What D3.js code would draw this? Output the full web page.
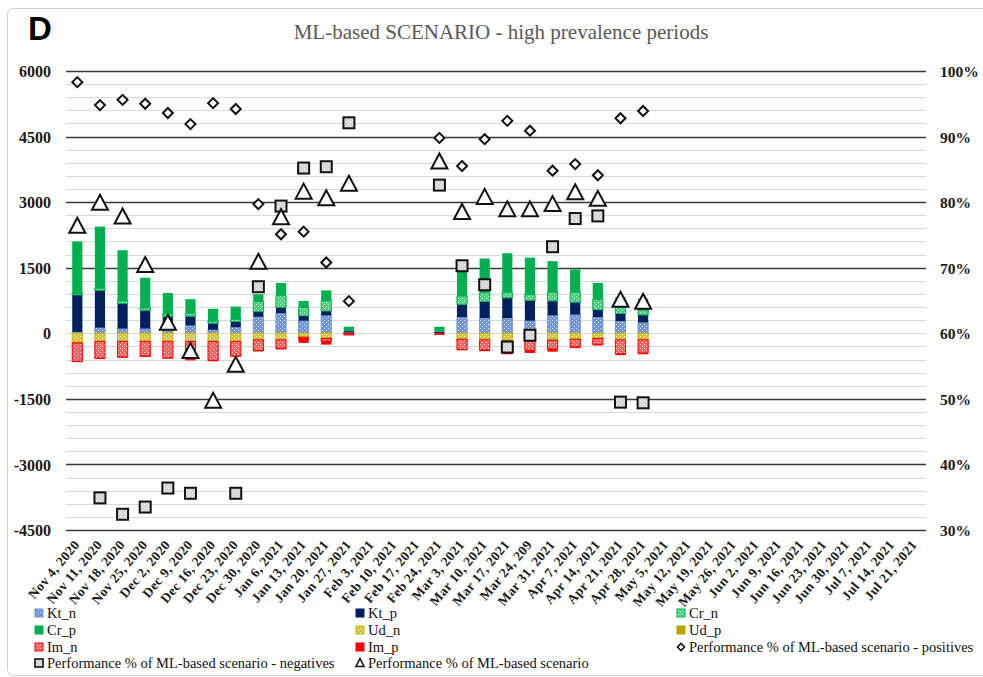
<!DOCTYPE html>
<html><head><meta charset="utf-8">
<script src="https://cdn.jsdelivr.net/npm/d3@7"></script>
<style>
html,body{margin:0;padding:0;background:#fff;}
svg{display:block;}
</style></head>
<body>
<svg id="chart" width="983" height="677"></svg>
<script>
const categories = ["Nov 4, 2020","Nov 11, 2020","Nov 18, 2020","Nov 25, 2020","Dec 2, 2020","Dec 9, 2020","Dec 16, 2020","Dec 23, 2020","Dec 30, 2020","Jan 6, 2021","Jan 13, 2021","Jan 20, 2021","Jan 27, 2021","Feb 3, 2021","Feb 10, 2021","Feb 17, 2021","Feb 24, 2021","Mar 3, 2021","Mar 10, 2021","Mar 17, 2021","Mar 24, 209","Mar 31, 2021","Apr 7, 2021","Apr 14, 2021","Apr 21, 2021","Apr 28, 2021","May 5, 2021","May 12, 2021","May 19, 2021","May 26, 2021","Jun 2, 2021","Jun 9, 2021","Jun 16, 2021","Jun 23, 2021","Jun 30, 2021","Jul 7, 2021","Jul 14, 2021","Jul 21, 2021"];
const N = null;
const Kt_n = [30,130,110,110,110,180,80,140,380,460,290,410,20,N,N,N,0,370,350,350,290,410,430,370,280,250,N,N,N,N,N,N,N,N,N,N,N,N];
const Kt_p = [850,850,570,410,270,210,150,130,115,130,110,100,30,N,N,N,40,290,380,460,460,330,280,170,170,170,N,N,N,N,N,N,N,N,N,N,N,N];
const Cr_n = [30,50,60,60,60,60,50,50,230,270,190,230,0,N,N,N,0,190,200,130,140,200,230,230,150,110,N,N,N,N,N,N,N,N,N,N,N,N];
const Cr_p = [1190,1410,1160,690,480,330,280,290,170,290,150,240,100,N,N,N,110,710,780,890,840,710,520,380,230,260,N,N,N,N,N,N,N,N,N,N,N,N];
const Ud_n = [-200,-170,-170,-170,-170,-170,-170,-170,-130,-130,-80,-100,0,N,N,N,0,-120,-130,-150,-130,-130,-120,-100,-130,-130,N,N,N,N,N,N,N,N,N,N,N,N];
const Ud_p = [-20,-20,-20,-20,-20,-20,-20,-20,-20,-20,-10,-20,0,N,N,N,0,-20,-20,-30,-30,-30,-20,-20,-20,-20,N,N,N,N,N,N,N,N,N,N,N,N];
const Im_n = [-420,-380,-350,-330,-370,-360,-430,-330,-245,-190,-30,-60,-20,N,N,N,0,-230,-230,-250,-230,-200,-170,-130,-320,-300,N,N,N,N,N,N,N,N,N,N,N,N];
const Im_p = [-20,-20,-20,-20,-20,-70,-20,-20,-20,-30,-100,-80,-30,N,N,N,-40,-20,-30,-50,-60,-60,-30,-30,-30,-30,N,N,N,N,N,N,N,N,N,N,N,N];
const perfPositives = [98.3,94.8,95.6,95.0,93.6,91.9,95.1,94.2,79.7,75.1,75.5,70.8,64.9,N,N,N,89.8,85.5,89.6,92.4,90.9,84.8,85.8,84.1,92.8,93.9,N,N,N,N,N,N,N,N,N,N,N,N];
const perfNegatives = [N,34.9,32.4,33.5,36.4,35.6,N,35.6,67.1,79.4,85.2,85.4,92.1,N,N,N,82.6,70.3,67.4,57.9,59.7,73.2,77.5,77.9,49.5,49.4,N,N,N,N,N,N,N,N,N,N,N,N];
const perfAll = [76.4,79.9,77.8,70.4,61.6,57.3,49.7,55.2,70.9,77.7,81.6,80.6,82.8,N,N,N,86.2,78.5,80.8,78.9,78.9,79.7,81.5,80.5,65.1,64.8,N,N,N,N,N,N,N,N,N,N,N,N];
const leftTicks = [6000,4500,3000,1500,0,-1500,-3000,-4500];
const rightTicks = [100,90,80,70,60,50,40,30];
const title = "ML-based SCENARIO - high prevalence periods";

const svg = d3.select("#chart");
const FONT = "'Liberation Serif', 'Times New Roman', serif";

// border
svg.append("rect").attr("x",7.5).attr("y",8.5).attr("width",990).attr("height",667)
  .attr("rx",6).attr("fill","#fff").attr("stroke","#d0d0d0").attr("stroke-width",1);

// patterns
const defs = svg.append("defs");
function pat(id, base, dot){
  const p = defs.append("pattern").attr("id",id).attr("width",4).attr("height",4).attr("patternUnits","userSpaceOnUse");
  p.append("rect").attr("width",4).attr("height",4).attr("fill",base);
  p.append("rect").attr("x",0).attr("y",0).attr("width",1).attr("height",1).attr("fill",dot);
  p.append("rect").attr("x",2).attr("y",2).attr("width",1).attr("height",1).attr("fill",dot);
}
pat("pKt","#7495d4","#d8e2f4");
pat("pCr","#4fcf82","#d6f3e1");
pat("pUd","#d3c646","#f1ecb8");
pat("pIm","#f36262","#fde0e0");
pat("pSq","#d6d6d6","#f6f6f6");

const x = d3.scaleBand().domain(categories).range([66,926]).paddingInner(0).paddingOuter(0);
const y = d3.scaleLinear().domain([-4500,6000]).range([530,71]);
const y2 = d3.scaleLinear().domain([30,100]).range([530,71]);
const barW = x.bandwidth()*0.45;

// gridlines
const g = svg.append("g");
d3.range(-4500,6001,300).forEach(v=>{
  const major = (v % 1500 === 0) && v !== 0;
  g.append("line").attr("x1",66).attr("x2",926).attr("y1",Math.round(y(v))+0.5).attr("y2",Math.round(y(v))+0.5)
    .attr("stroke", major ? "#3a3a3a" : "#d9d9d9").attr("stroke-width", major ? 1.3 : 1);
});

// title + letter
svg.append("text").attr("x",501).attr("y",39).attr("text-anchor","middle")
  .attr("font-family",FONT).attr("font-size",21).attr("fill","#595959").text(title);
svg.append("text").attr("x",28).attr("y",40).attr("font-family","'Liberation Sans', Arial, sans-serif")
  .attr("font-weight","bold").attr("font-size",33).attr("fill","#000").text("D");

// axes labels
const yAxis = d3.axisLeft(y).tickValues(leftTicks).tickSize(0).tickPadding(0).tickFormat(d=>d);
const ya = svg.append("g").attr("transform","translate(51,0)").call(yAxis);
ya.select(".domain").remove();
ya.selectAll("text").attr("font-family",FONT).attr("font-size",16).attr("font-weight","bold").attr("fill","#1a1a1a").attr("dy","0.35em");
const y2Axis = d3.axisRight(y2).tickValues(rightTicks).tickSize(0).tickPadding(0).tickFormat(d=>d+"%");
const ya2 = svg.append("g").attr("transform","translate(940,0)").call(y2Axis);
ya2.select(".domain").remove();
ya2.selectAll("text").attr("font-family",FONT).attr("font-size",15.5).attr("font-weight","bold").attr("fill","#1a1a1a").attr("dy","0.35em");

const xAxis = d3.axisBottom(x).tickSize(0).tickPadding(0);
const xa = svg.append("g").attr("transform","translate(0,538)").call(xAxis);
xa.select(".domain").remove();
xa.selectAll("text").attr("font-family",FONT).attr("font-size",13.5).attr("font-weight","bold").attr("fill","#1a1a1a")
  .attr("letter-spacing","0.4px")
  .attr("text-anchor","end").attr("dy",0).attr("transform","translate(3,7) rotate(-50)");

// stacked bars
const posSeries = [
  {key:"Kt_n", data:Kt_n, fill:"url(#pKt)", stroke:"#7495d4"},
  {key:"Kt_p", data:Kt_p, fill:"#002060", stroke:"none"},
  {key:"Cr_n", data:Cr_n, fill:"url(#pCr)", stroke:"#00b050"},
  {key:"Cr_p", data:Cr_p, fill:"#00b050", stroke:"none"}
];
const negSeries = [
  {key:"Ud_n", data:Ud_n, fill:"url(#pUd)", stroke:"#c9b800"},
  {key:"Ud_p", data:Ud_p, fill:"#b8a400", stroke:"none"},
  {key:"Im_n", data:Im_n, fill:"url(#pIm)", stroke:"#ff0000"},
  {key:"Im_p", data:Im_p, fill:"#ff0000", stroke:"none"}
];
const bars = svg.append("g");
categories.forEach((c,i)=>{
  let acc = 0;
  posSeries.forEach(s=>{
    const v = s.data[i];
    if(v==null || v===0) return;
    const y0 = y(acc), y1 = y(acc+v);
    bars.append("rect").attr("x",x(c)+(x.bandwidth()-barW)/2).attr("width",barW)
      .attr("y",y1).attr("height",y0-y1).attr("fill",s.fill)
      .attr("stroke",s.stroke).attr("stroke-width",s.stroke==="none"?0:1);
    acc += v;
  });
  acc = 0;
  negSeries.forEach(s=>{
    const v = s.data[i];
    if(v==null || v===0) return;
    const y0 = y(acc), y1 = y(acc+v);
    bars.append("rect").attr("x",x(c)+(x.bandwidth()-barW)/2).attr("width",barW)
      .attr("y",y0).attr("height",y1-y0).attr("fill",s.fill)
      .attr("stroke",s.stroke).attr("stroke-width",s.stroke==="none"?0:1);
    acc += v;
  });
});

// markers
const cx = c => x(c)+x.bandwidth()/2;
const mk = svg.append("g");
function diamondPath(s){return `M0,${-s}L${s},0L0,${s}L${-s},0Z`;}
function triPath(w,h){return `M0,${-h/2-1}L${w/2},${h/2}L${-w/2},${h/2}Z`;}
perfPositives.forEach((v,i)=>{
  if(v==null) return;
  mk.append("path").attr("d",diamondPath(5)).attr("transform",`translate(${cx(categories[i])},${y2(v)})`)
    .attr("fill","#fff").attr("stroke","#111").attr("stroke-width",2);
});
perfNegatives.forEach((v,i)=>{
  if(v==null) return;
  mk.append("rect").attr("x",cx(categories[i])-5.5).attr("y",y2(v)-5.5).attr("width",11).attr("height",11)
    .attr("fill","url(#pSq)").attr("stroke","#111").attr("stroke-width",2);
});
perfAll.forEach((v,i)=>{
  if(v==null) return;
  mk.append("path").attr("d",triPath(16,14)).attr("transform",`translate(${cx(categories[i])},${y2(v)})`)
    .attr("fill","#fff").attr("stroke","#111").attr("stroke-width",2).attr("stroke-linejoin","miter");
});

// legend
const legendItems = [
  {t:"Kt_n", type:"box", fill:"url(#pKt)", stroke:"#7495d4", col:0,row:0},
  {t:"Kt_p", type:"box", fill:"#002060", stroke:"#002060", col:1,row:0},
  {t:"Cr_n", type:"box", fill:"url(#pCr)", stroke:"#00b050", col:2,row:0},
  {t:"Cr_p", type:"box", fill:"#00b050", stroke:"#00b050", col:0,row:1},
  {t:"Ud_n", type:"box", fill:"url(#pUd)", stroke:"#c9b800", col:1,row:1},
  {t:"Ud_p", type:"box", fill:"#b8a400", stroke:"#b8a400", col:2,row:1},
  {t:"Im_n", type:"box", fill:"url(#pIm)", stroke:"#ff0000", col:0,row:2},
  {t:"Im_p", type:"box", fill:"#ff0000", stroke:"#ff0000", col:1,row:2},
  {t:"Performance % of ML-based scenario - positives", type:"diamond", col:2,row:2},
  {t:"Performance % of ML-based scenario - negatives", type:"square", col:0,row:3},
  {t:"Performance % of ML-based scenario", type:"tri", col:1,row:3}
];
const colX = [39,360,681], rowY = [613,630,647,663];
const lg = svg.append("g");
legendItems.forEach(d=>{
  const mx = colX[d.col], my = rowY[d.row];
  if(d.type==="box"){
    lg.append("rect").attr("x",mx-4).attr("y",my-4).attr("width",8).attr("height",8).attr("fill",d.fill).attr("stroke",d.stroke).attr("stroke-width",1);
  } else if(d.type==="diamond"){
    lg.append("path").attr("d",diamondPath(3.5)).attr("transform",`translate(${mx},${my})`).attr("fill","#fff").attr("stroke","#111").attr("stroke-width",1.6);
  } else if(d.type==="square"){
    lg.append("rect").attr("x",mx-4).attr("y",my-4).attr("width",8).attr("height",8).attr("fill","url(#pSq)").attr("stroke","#111").attr("stroke-width",1.6);
  } else {
    lg.append("path").attr("d",triPath(8,7)).attr("transform",`translate(${mx},${my})`).attr("fill","#fff").attr("stroke","#111").attr("stroke-width",1.6);
  }
  lg.append("text").attr("x",mx+8).attr("y",my).attr("dy","0.35em").attr("font-family",FONT).attr("font-size",14.5).attr("fill","#111").text(d.t);
});
</script>
</body></html>
